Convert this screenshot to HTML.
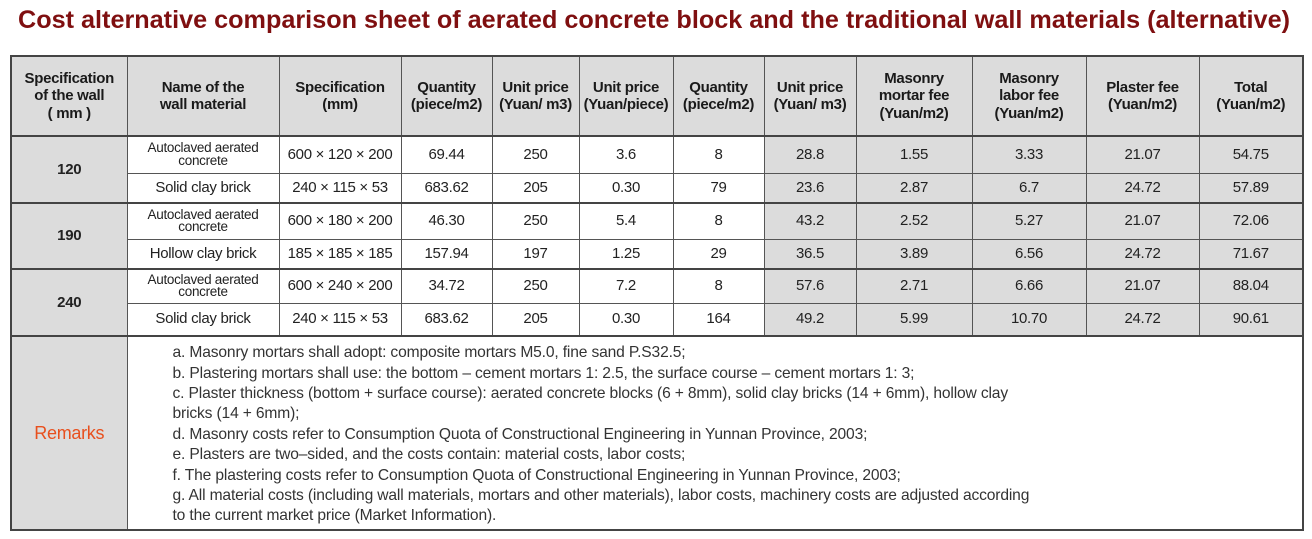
<!DOCTYPE html>
<html><head><meta charset="utf-8"><style>
html,body{margin:0;padding:0;background:#fff;width:1312px;height:539px;overflow:hidden}
body{font-family:"Liberation Sans",Arial,sans-serif;position:relative}
.title{position:absolute;left:0;top:0}
table{position:absolute;left:10px;top:55px;border-collapse:collapse;table-layout:fixed;border:2px solid #444}
td{border:1px solid #555;text-align:center;vertical-align:middle;font-size:15px;color:#222;padding:0;line-height:1.05;letter-spacing:-0.3px}
.h td{background:#dcdcdc;font-weight:bold;font-size:15px;line-height:1.15;color:#1a1a1a}
.g{background:#dcdcdc}
.b{font-weight:bold}
.s{font-size:13.5px;line-height:0.92}
.rm{color:#e8501e;font-size:18px;background:#dcdcdc}
.txt{text-align:left;padding-left:45px;padding-top:4px;font-size:15.6px;line-height:20.4px;color:#333;letter-spacing:-0.15px}
.grp{border-top:2px solid #444}
</style></head><body>
<svg class="title" width="1312" height="40"><text x="18" y="28" font-family="Liberation Sans, Arial, sans-serif" font-weight="bold" font-size="25" fill="#7f0f10" textLength="1272" lengthAdjust="spacingAndGlyphs">Cost alternative comparison sheet of aerated concrete block and the traditional wall materials (alternative)</text></svg>
<table>
<colgroup><col style="width:116px"><col style="width:152px"><col style="width:122px"><col style="width:91px"><col style="width:87px"><col style="width:94px"><col style="width:91px"><col style="width:92px"><col style="width:116px"><col style="width:114px"><col style="width:113px"><col style="width:104px"></colgroup>
<tr class="h" style="height:80px"><td>Specification<br>of the wall<br>( mm )</td><td>Name of the<br>wall material</td><td>Specification<br>(mm)</td><td>Quantity<br>(piece/m2)</td><td>Unit price<br>(Yuan/ m3)</td><td>Unit price<br>(Yuan/piece)</td><td>Quantity<br>(piece/m2)</td><td>Unit price<br>(Yuan/ m3)</td><td>Masonry<br>mortar fee<br>(Yuan/m2)</td><td>Masonry<br>labor fee<br>(Yuan/m2)</td><td>Plaster fee<br>(Yuan/m2)</td><td>Total<br>(Yuan/m2)</td></tr>
<tr style="height:37px" class="grp"><td rowspan="2" class="g b">120</td><td class="s">Autoclaved aerated<br>concrete</td><td>600 × 120 × 200</td><td>69.44</td><td>250</td><td>3.6</td><td>8</td><td class="g">28.8</td><td class="g">1.55</td><td class="g">3.33</td><td class="g">21.07</td><td class="g">54.75</td></tr>
<tr style="height:30px"><td>Solid clay brick</td><td>240 × 115 × 53</td><td>683.62</td><td>205</td><td>0.30</td><td>79</td><td class="g">23.6</td><td class="g">2.87</td><td class="g">6.7</td><td class="g">24.72</td><td class="g">57.89</td></tr>
<tr style="height:36px" class="grp"><td rowspan="2" class="g b">190</td><td class="s">Autoclaved aerated<br>concrete</td><td>600 × 180 × 200</td><td>46.30</td><td>250</td><td>5.4</td><td>8</td><td class="g">43.2</td><td class="g">2.52</td><td class="g">5.27</td><td class="g">21.07</td><td class="g">72.06</td></tr>
<tr style="height:30px"><td>Hollow clay brick</td><td>185 × 185 × 185</td><td>157.94</td><td>197</td><td>1.25</td><td>29</td><td class="g">36.5</td><td class="g">3.89</td><td class="g">6.56</td><td class="g">24.72</td><td class="g">71.67</td></tr>
<tr style="height:34px" class="grp"><td rowspan="2" class="g b">240</td><td class="s">Autoclaved aerated<br>concrete</td><td>600 × 240 × 200</td><td>34.72</td><td>250</td><td>7.2</td><td>8</td><td class="g">57.6</td><td class="g">2.71</td><td class="g">6.66</td><td class="g">21.07</td><td class="g">88.04</td></tr>
<tr style="height:33px"><td>Solid clay brick</td><td>240 × 115 × 53</td><td>683.62</td><td>205</td><td>0.30</td><td>164</td><td class="g">49.2</td><td class="g">5.99</td><td class="g">10.70</td><td class="g">24.72</td><td class="g">90.61</td></tr>
<tr style="height:194px" class="grp"><td class="rm">Remarks</td><td colspan="11" class="txt">a. Masonry mortars shall adopt: composite mortars M5.0, fine sand P.S32.5;<br>b. Plastering mortars shall use: the bottom – cement mortars 1: 2.5, the surface course – cement mortars 1: 3;<br>c. Plaster thickness (bottom + surface course): aerated concrete blocks (6 + 8mm), solid clay bricks (14 + 6mm), hollow clay<br>bricks (14 + 6mm);<br>d. Masonry costs refer to Consumption Quota of Constructional Engineering in Yunnan Province, 2003;<br>e. Plasters are two–sided, and the costs contain: material costs, labor costs;<br>f. The plastering costs refer to Consumption Quota of Constructional Engineering in Yunnan Province, 2003;<br>g. All material costs (including wall materials, mortars and other materials), labor costs, machinery costs are adjusted according<br>to the current market price (Market Information).</td></tr>
</table>
</body></html>
